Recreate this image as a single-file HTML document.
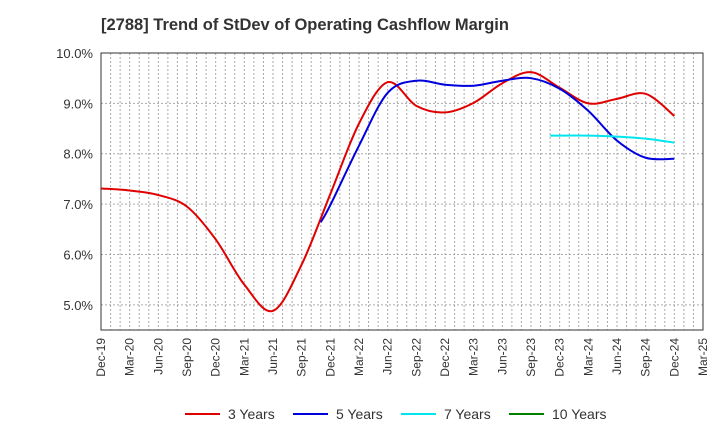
<!DOCTYPE html>
<html><head><meta charset="utf-8"><style>
body{margin:0;background:#fff;font-family:"Liberation Sans",sans-serif}
svg text{font-family:"Liberation Sans",sans-serif}
</style></head><body>
<svg id="c" width="720" height="440" xmlns="http://www.w3.org/2000/svg">
<text x="101" y="30" font-size="16.5" font-weight="bold" fill="#333">[2788]  Trend of StDev of Operating Cashflow Margin</text>
<g id="grid"></g><g id="axes"></g><g id="series"></g><g id="legend"></g>
</svg>
<script>
const xLabels=["Dec-19","Mar-20","Jun-20","Sep-20","Dec-20","Mar-21","Jun-21","Sep-21","Dec-21","Mar-22","Jun-22","Sep-22","Dec-22","Mar-23","Jun-23","Sep-23","Dec-23","Mar-24","Jun-24","Sep-24","Dec-24","Mar-25"];
const yTicks=[5.0,6.0,7.0,8.0,9.0,10.0];
const m3=[0,3,6,9,12,15,18,21,24,27,30,33,36,39,42,45,48,51,54,57,60];
const v3=[7.31,7.27,7.18,6.95,6.3,5.4,4.88,5.8,7.2,8.6,9.42,8.95,8.82,9.01,9.4,9.62,9.31,9.0,9.09,9.19,8.75];
const m5=[23,24,27,30,33,36,39,42,45,48,51,54,57,60];
const v5=[6.64,6.98,8.16,9.21,9.45,9.37,9.35,9.45,9.5,9.29,8.85,8.26,7.92,7.9];
const m7=[47,51,54,57,60];
const v7=[8.36,8.36,8.34,8.3,8.22];
const m10=[];const v10=[];
const L=101,R=703,T=53,B=330,yMin=4.5,yMax=10.0,nM=63;
const X=m=>L+(R-L)*m/nM, Y=v=>T+(B-T)*(yMax-v)/(yMax-yMin);
const NS="http://www.w3.org/2000/svg";
function mk(t,a,p){const e=document.createElementNS(NS,t);for(const k in a)e.setAttribute(k,a[k]);p.appendChild(e);return e;}
const g=document.getElementById('grid'),ax=document.getElementById('axes'),s=document.getElementById('series'),lg=document.getElementById('legend');
for(let m=1;m<nM;m++){const l=mk('line',{x1:X(m),x2:X(m),y1:T,y2:B,stroke:'#aaa','stroke-dasharray':'2,2','stroke-width':1},g);

}
yTicks.forEach(v=>{const l=mk('line',{x1:L,x2:R,y1:Y(v),y2:Y(v),stroke:'#aaa','stroke-dasharray':'2,2'},g);


const t=mk('text',{x:L-8,y:Y(v)+5,'text-anchor':'end','font-size':13,fill:'#333'},ax);t.textContent=v.toFixed(1)+'%';

});
const fr=mk('rect',{x:L,y:T,width:R-L,height:B-T,fill:'none',stroke:'#333','stroke-width':1},ax);


xLabels.forEach((lab,i)=>{const x=X(i*3),y=B+8;const t=mk('text',{x:x+4,y:y,'text-anchor':'end','font-size':12,fill:'#333',transform:`rotate(-90 ${x+4} ${y})`},ax);t.textContent=lab;

});
function path(ms,vs){const p=ms.map((m,i)=>[X(m),Y(vs[i])]);if(!p.length)return'';let d=`M${p[0][0]},${p[0][1]}`;
for(let i=0;i<p.length-1;i++){const p0=p[i-1]||p[i],p1=p[i],p2=p[i+1],p3=p[i+2]||p2;
d+=`C${p1[0]+(p2[0]-p0[0])/6},${p1[1]+(p2[1]-p0[1])/6} ${p2[0]-(p3[0]-p1[0])/6},${p2[1]-(p3[1]-p1[1])/6} ${p2[0]},${p2[1]}`;}return d;}
const ser=[[m3,v3,'#e00000','3 Years'],[m5,v5,'#0000dd','5 Years'],[m7,v7,'#00e5ee','7 Years'],[m10,v10,'#008000','10 Years']];
ser.forEach(([m,v,c,n],i)=>{const p=mk('path',{d:path(m,v),fill:'none',stroke:c,'stroke-width':2},s);


const lx=[185,293,401,509][i];
const ll=mk('line',{x1:lx,x2:lx+35,y1:414,y2:414,stroke:c,'stroke-width':2},lg);


const t=mk('text',{x:lx+43,y:419,'font-size':14,fill:'#333'},lg);t.textContent=n;

});
</script>
</body></html>
